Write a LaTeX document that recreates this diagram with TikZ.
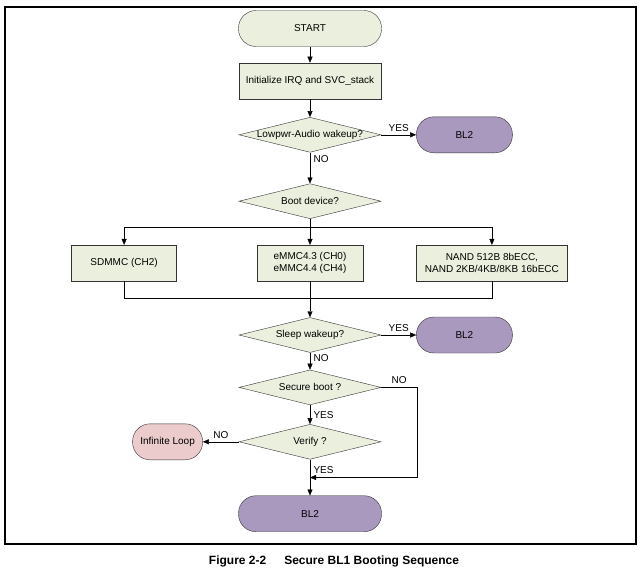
\documentclass[tikz,border=0pt]{standalone}
\usepackage{fontspec}
\setmainfont{Liberation Sans}
\usepackage{xcolor}
\usetikzlibrary{arrows.meta,positioning,shapes.geometric}
\definecolor{boxgreen}{RGB}{235,240,222}
\definecolor{bltwo}{RGB}{169,153,191}
\definecolor{looppink}{RGB}{235,203,203}
\newcommand{\dtext}[1]{\makebox[0pt]{#1}}
\begin{document}
\begin{tikzpicture}[x=1pt, y=-1pt, >={Triangle[length=6pt,width=5pt]}, node distance=16pt,
    every node/.style={font=\fontsize{10}{12}\selectfont},
    terminal/.style={rectangle, rounded corners=17.5pt, draw=black!80, minimum width=143pt, minimum height=36pt, inner sep=2pt},
    process/.style={rectangle, draw=black!80, fill=boxgreen, minimum height=36pt, align=center, inner sep=2pt},
    decision/.style={diamond, draw=black!80, fill=boxgreen, minimum width=142pt, minimum height=35pt, inner sep=0pt}]
    \useasboundingbox (0,0) rectangle (644,571);
    \draw[line width=1.2pt] (5,7) rectangle (636,544);
    \node[terminal, fill=boxgreen] (start) at (310,28.5) {START};
    \node[process, below=16pt of start, minimum width=142pt] (init) {Initialize IRQ and SVC\_stack};
    \node[decision, below=18pt of init] (lowpwr) {\dtext{Lowpwr-Audio wakeup?}};
    \node[terminal, fill=bltwo, right=35pt of lowpwr, minimum width=96pt] (bltwoa) {BL2};
    \node[decision, below=31pt of lowpwr] (bootdev) {\dtext{Boot device?}};
    \node[process, below=26pt of bootdev, minimum width=106pt] (emmc) {eMMC4.3 (CH0)\\eMMC4.4 (CH4)};
    \node[process, left=80pt of emmc, minimum width=105pt] (sdmmc) {SDMMC (CH2)};
    \node[process, right=53pt of emmc, minimum width=151pt] (nand) {NAND 512B 8bECC,\\NAND 2KB/4KB/8KB 16bECC};
    \node[decision, below=36pt of emmc] (sleep) {\dtext{Sleep wakeup?}};
    \node[terminal, fill=bltwo, right=35pt of sleep, minimum width=96pt] (bltwob) {BL2};
    \node[decision, below=17pt of sleep] (secure) {\dtext{Secure boot ?}};
    \node[decision, below=19pt of secure] (verify) {\dtext{Verify ?}};
    \node[terminal, fill=looppink, left=36pt of verify, minimum width=70pt] (loop) {Infinite Loop};
    \node[terminal, fill=bltwo, below=36pt of verify] (bltwoc) {BL2};
    \coordinate[below=8pt of bootdev] (split);
    \coordinate[below=17pt of emmc] (join);
    \coordinate[right=36pt of secure] (bend);
    \coordinate[below=18pt of verify] (rejoin);
    \draw[->] (start) -- (init);
    \draw[->] (init) -- (lowpwr);
    \draw[->] (lowpwr) -- node[above]{YES} (bltwoa);
    \draw[->] (lowpwr) -- node[right, pos=0.2]{NO} (bootdev);
    \draw (bootdev) -- (split);
    \draw[->] (split) -| (sdmmc);
    \draw[->] (split) -- (emmc);
    \draw[->] (split) -| (nand);
    \draw (sdmmc) |- (join);
    \draw (nand) |- (join);
    \draw[->] (emmc) -- (sleep);
    \draw[->] (sleep) -- node[above]{YES} (bltwob);
    \draw[->] (sleep) -- node[right, pos=0.3]{NO} (secure);
    \draw[->] (secure) -- node[right]{YES} (verify);
    \draw[->] (secure) -- node[above]{NO} (bend) |- (rejoin);
    \draw[->] (verify) -- node[above]{NO} (loop);
    \draw[->] (verify) -- node[right, pos=0.28]{YES} (bltwoc);
    \node[font=\bfseries\fontsize{12}{14}\selectfont] (caption) at (334,561) {Figure 2-2\hspace{18pt}Secure BL1 Booting Sequence};
\end{tikzpicture}
\end{document}
